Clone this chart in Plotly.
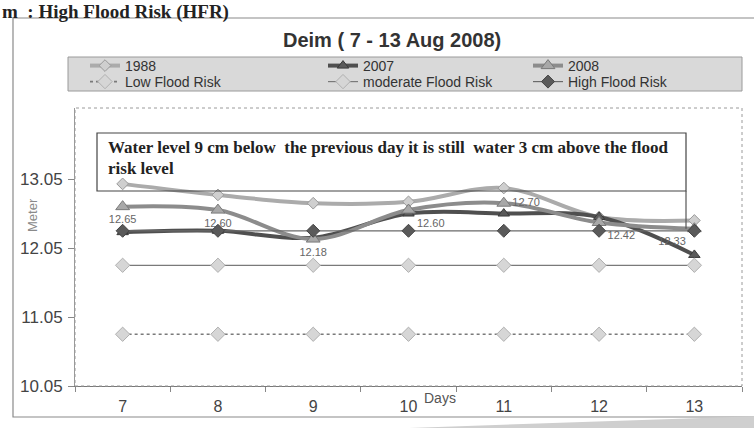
import plotly.graph_objects as go

# ---- data -------------------------------------------------------------
days = ["7", "8", "9", "10", "11", "12", "13"]
level_1988 = [12.98, 12.82, 12.70, 12.72, 12.92, 12.50, 12.45]
level_2007 = [12.28, 12.30, 12.20, 12.55, 12.55, 12.50, 11.95]
level_2008 = [12.65, 12.60, 12.18, 12.60, 12.70, 12.42, 12.33]
low_risk = [10.80, 10.80, 10.80, 10.80, 10.80, 10.80, 10.80]
moderate_risk = [11.80, 11.80, 11.80, 11.80, 11.80, 11.80, 11.80]
high_risk = [12.30, 12.30, 12.30, 12.30, 12.30, 12.30, 12.30]
label_pos_2008 = ["bottom center", "bottom center", "bottom center",
                  "bottom right", "middle right", "bottom right", "bottom left"]
y_ticks = [10.05, 11.05, 12.05, 13.05]
note_lines = ["Water level 9 cm below  the previous day it is still  "
              "water 3 cm above the flood",
              "risk level"]

# ---- page geometry (pixels) -------------------------------------------
W, H = 754, 428
L, R, T, B = 75, 12, 108, 42
PW, PH = W - L - R, H - T - B


def px(xp):
    return (xp - L) / PW


def py(yp):
    return (H - B - yp) / PH


Y_MIN, Y_MAX = 10.05, 14.08


def val(yp):
    return Y_MIN + (H - B - yp) / PH * (Y_MAX - Y_MIN)


SANS = "Liberation Sans, Arial, sans-serif"
SERIF = "Liberation Serif, Times New Roman, serif"

fig = go.Figure()

fig.add_trace(go.Scatter(
    x=days, y=level_1988, name="1988", legend="legend",
    mode="lines+markers", line=dict(color="#ababab", width=4, shape="spline"),
    marker=dict(symbol="diamond", size=9, color="#cfcfcf",
                line=dict(color="#9a9a9a", width=1)),
    cliponaxis=False))

fig.add_trace(go.Scatter(
    x=days, y=level_2007, name="2007", legend="legend3",
    mode="lines+markers", line=dict(color="#4f4f4f", width=4, shape="spline"),
    marker=dict(symbol="triangle-up", size=10, color="#5a5a5a",
                line=dict(color="#3a3a3a", width=1)),
    cliponaxis=False))

fig.add_trace(go.Scatter(
    x=days, y=level_2008, name="2008", legend="legend5",
    mode="lines+markers+text", line=dict(color="#8c8c8c", width=4, shape="spline"),
    marker=dict(symbol="triangle-up", size=12, color="#a8a8a8",
                line=dict(color="#7a7a7a", width=1)),
    text=[f"{v:.2f}" for v in level_2008], textposition=label_pos_2008,
    textfont=dict(family=SANS, size=11, color="#666666"),
    cliponaxis=False))

fig.add_trace(go.Scatter(
    x=days, y=low_risk, name="Low Flood Risk", legend="legend2",
    mode="lines+markers", line=dict(color="#7a7a7a", width=1.6, dash="dot"),
    marker=dict(symbol="diamond", size=11, color="#d6d6d6",
                line=dict(color="#b0b0b0", width=1)),
    cliponaxis=False))

fig.add_trace(go.Scatter(
    x=days, y=moderate_risk, name="moderate Flood Risk", legend="legend4",
    mode="lines+markers", line=dict(color="#7a7a7a", width=1.2),
    marker=dict(symbol="diamond", size=11, color="#d6d6d6",
                line=dict(color="#b0b0b0", width=1)),
    cliponaxis=False))

fig.add_trace(go.Scatter(
    x=days, y=high_risk, name="High Flood Risk", legend="legend6",
    mode="lines+markers", line=dict(color="#6a6a6a", width=1.2),
    marker=dict(symbol="diamond", size=10, color="#5a5a5a",
                line=dict(color="#444444", width=1)),
    cliponaxis=False))

# ---- legends: three columns x two rows --------------------------------
leg_common = dict(orientation="v", xanchor="left", yanchor="middle",
                  bgcolor="rgba(0,0,0,0)", borderwidth=0,
                  font=dict(family=SANS, size=14, color="#333333"),
                  itemwidth=30)
col_x = [85, 323, 528]
row_y = [66, 82]
legend_slots = {
    "legend": (0, 0), "legend2": (0, 1),
    "legend3": (1, 0), "legend4": (1, 1),
    "legend5": (2, 0), "legend6": (2, 1),
}
legend_layout = {}
for key, (c, r) in legend_slots.items():
    legend_layout[key] = dict(leg_common, x=px(col_x[c]), y=py(row_y[r]))

# note box (pixels)
NOTE_L, NOTE_R, NOTE_T, NOTE_B = 97, 686, 133, 191

shapes = [
    # outer chart frame
    dict(type="rect", xref="paper", yref="paper",
         x0=px(13), x1=px(764), y0=py(417), y1=py(18),
         line=dict(color="#8a8a8a", width=1.2), fillcolor="rgba(0,0,0,0)",
         layer="below"),
    # legend band
    dict(type="rect", xref="paper", yref="paper",
         x0=px(68), x1=px(742), y0=py(91), y1=py(57),
         line=dict(color="#9a9a9a", width=1), fillcolor="#d9d9d9",
         layer="below"),
    # plot area border
    dict(type="rect", xref="paper", yref="paper", x0=0, x1=1, y0=0, y1=1,
         line=dict(color="#9a9a9a", width=1, dash="dot"),
         fillcolor="rgba(0,0,0,0)"),
    # strip of the next panel at the page bottom
    dict(type="path", xref="paper", yref="paper",
         path=(f"M {px(380)},{py(429)} L {px(760)},{py(416)} "
               f"L {px(760)},{py(429)} Z"),
         line=dict(width=0), fillcolor="#cfcfcf"),
    # note box
    dict(type="rect", xref="paper", yref="paper",
         x0=px(NOTE_L), x1=px(NOTE_R), y0=py(NOTE_B), y1=py(NOTE_T),
         line=dict(color="#444444", width=1.2), fillcolor="rgba(0,0,0,0)"),
    # leader from the note box down to the last 2008 reading
    dict(type="line", xref="paper", yref="y",
         x0=px(NOTE_R), x1=px(NOTE_R), y0=val(NOTE_B), y1=level_2008[-1],
         line=dict(color="#555555", width=1.2)),
]

annotations = [
    dict(text="<b>m  : High Flood Risk (HFR)</b>", xref="paper", yref="paper",
         x=px(0), y=py(-1), xanchor="left", yanchor="top", showarrow=False,
         font=dict(family=SERIF, size=19, color="#222222")),
    dict(text="<b>Deim ( 7 - 13 Aug 2008)</b>", xref="paper", yref="paper",
         x=px(392), y=py(40), xanchor="center", yanchor="middle",
         showarrow=False, font=dict(family=SANS, size=20, color="#333333")),
    dict(text="Meter", xref="paper", yref="paper", x=px(32), y=py(215),
         xanchor="center", yanchor="middle", textangle=-90, showarrow=False,
         font=dict(family=SANS, size=13, color="#8a8a8a")),
    dict(text="Days", xref="paper", yref="paper", x=px(440), y=py(398),
         xanchor="center", yanchor="middle", showarrow=False,
         font=dict(family=SANS, size=14, color="#555555")),
]
for i, line in enumerate(note_lines):
    annotations.append(dict(
        text=f"<b>{line}</b>", xref="paper", yref="paper",
        x=px(106), y=py(147 + 21 * i), xanchor="left", yanchor="middle",
        align="left", showarrow=False,
        font=dict(family=SERIF, size=17, color="#222222")))

fig.update_layout(
    width=W, height=H,
    margin=dict(l=L, r=R, t=T, b=B),
    paper_bgcolor="white", plot_bgcolor="white",
    showlegend=True,
    shapes=shapes, annotations=annotations,
    **legend_layout,
)

fig.update_xaxes(
    type="category", categoryorder="array", categoryarray=days,
    range=[-0.5, 6.5], tickson="boundaries", ticks="outside", ticklen=5,
    tickcolor="#888888", showline=True, linecolor="#777777", linewidth=1.2,
    showgrid=False, zeroline=False, ticklabelstandoff=6,
    tickfont=dict(family=SANS, size=16, color="#444444"))

fig.update_yaxes(
    range=[Y_MIN, Y_MAX], tickmode="array", tickvals=y_ticks,
    ticktext=[f"{v:.2f}" for v in y_ticks], ticks="outside", ticklen=6,
    tickcolor="#888888", showline=True, linecolor="#999999", linewidth=1,
    showgrid=False, zeroline=False, ticklabelstandoff=2,
    tickfont=dict(family=SANS, size=17, color="#444444"))

fig.write_html("out.html")
